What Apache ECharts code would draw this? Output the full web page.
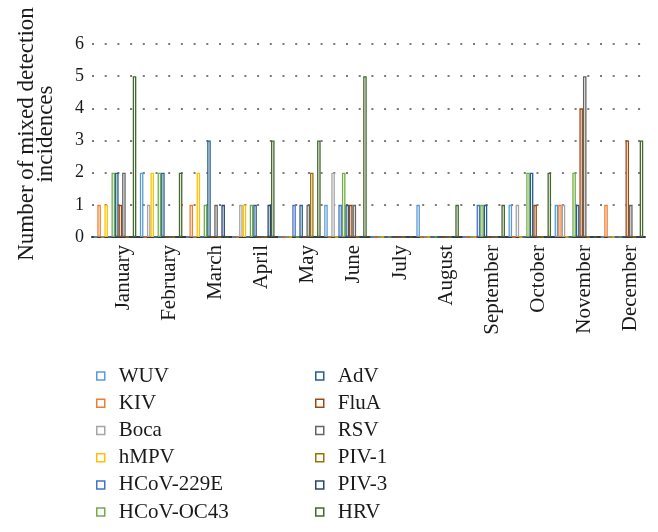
<!DOCTYPE html>
<html>
<head>
<meta charset="utf-8">
<script src="https://cdn.jsdelivr.net/npm/echarts@6/dist/echarts.min.js"></script>
<style>
html,body{margin:0;padding:0;background:#fff;}
#chart{width:658px;height:532px;}
</style>
</head>
<body>
<div id="chart"></div>
<script>
var months = ['January','February','March','April','May','June','July','August','September','October','November','December'];
var yTicks = [0,1,2,3,4,5,6];

var WUV       = [0,2,0,0,0,1,0,1,0,1,1,0];
var KIV       = [1,0,1,0,0,0,0,0,0,0,1,1];
var Boca      = [0,1,0,1,0,2,0,0,0,1,1,0];
var hMPV      = [1,2,2,1,0,0,0,0,0,0,0,0];
var HCoV229E  = [0,0,0,0,1,1,0,0,1,0,0,0];
var HCoVOC43  = [2,2,1,1,0,2,0,0,1,2,2,0];
var AdV       = [2,2,3,1,1,1,0,0,1,2,1,0];
var FluA      = [1,0,0,0,0,1,0,0,0,1,4,3];
var RSV       = [2,0,1,0,1,1,0,0,0,0,5,1];
var PIV1      = [0,0,0,0,2,0,0,0,0,0,0,0];
var PIV3      = [0,0,1,1,0,0,0,0,0,0,0,0];
var HRV       = [5,2,0,3,3,5,0,1,1,2,0,3];

var seriesNames = ['WUV','KIV','Boca','hMPV','HCoV-229E','HCoV-OC43','AdV','FluA','RSV','PIV-1','PIV-3','HRV'];
var seriesData = [WUV,KIV,Boca,hMPV,HCoV229E,HCoVOC43,AdV,FluA,RSV,PIV1,PIV3,HRV];
var colors = ['#5B9BD5','#ED7D31','#A5A5A5','#FFC000','#4472C4','#70AD47','#255E91','#9E480E','#636363','#997300','#264478','#43682B'];

var FONT = '"Liberation Serif", "Times New Roman", serif';

var series = seriesNames.map(function(n, i){
  return {
    name: n,
    type: 'bar',
    data: seriesData[i],
    barGap: '0%',
    barCategoryGap: '7.7%',
    itemStyle: { color: '#ffffff', borderColor: colors[i], borderWidth: 1.3 },
    emphasis: { disabled: true }
  };
});

var legendCommon = {
  orient: 'vertical',
  padding: 0,
  itemGap: 0,
  itemWidth: 8,
  itemHeight: 8,
  icon: 'rect',
  itemStyle: { borderWidth: 1.5 },
  textStyle: { fontFamily: FONT, fontSize: 21, color: '#1a1a1a', lineHeight: 27.2, padding: [0,0,0,9] },
  selectedMode: false
};

var chart = echarts.init(document.getElementById('chart'), null, {renderer: 'canvas'});
chart.setOption({
  animation: false,
  backgroundColor: '#ffffff',
  grid: { left: 92, right: 13, top: 44, bottom: 295, containLabel: false },
  legend: [
    Object.assign({}, legendCommon, { left: 96, top: 362.5, data: seriesNames.slice(0,6) }),
    Object.assign({}, legendCommon, { left: 315, top: 362.5, data: seriesNames.slice(6) })
  ],
  graphic: [{
    type: 'text',
    x: 36.5, y: 134,
    rotation: Math.PI / 2,
    style: {
      text: 'Number of mixed detection\nincidences',
      font: '23px ' + FONT,
      fill: '#1a1a1a',
      align: 'center',
      verticalAlign: 'middle',
      lineHeight: 19
    }
  }],
  xAxis: {
    type: 'category',
    data: months,
    axisLine: { lineStyle: { color: '#3a3a3a', width: 2 } },
    axisTick: { show: false },
    axisLabel: { rotate: 90, interval: 0, margin: 8, verticalAlign: 'top', lineHeight: 17, fontFamily: FONT, fontSize: 21, color: '#1a1a1a' }
  },
  yAxis: {
    type: 'value',
    min: yTicks[0], max: yTicks[yTicks.length-1], interval: 1,
    axisLine: { show: false },
    axisTick: { show: false },
    axisLabel: { margin: 8, fontFamily: FONT, fontSize: 18, color: '#1a1a1a' },
    splitLine: { lineStyle: { color: '#7a7a7a', width: 2, type: [2, 10.7] } }
  },
  series: series
});
</script>
</body>
</html>
